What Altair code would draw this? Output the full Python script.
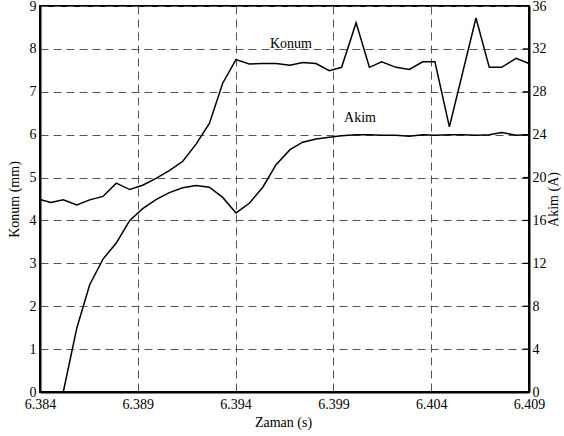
import altair as alt
import pandas as pd

# Konum (mm) samples
t_konum = [6.38400, 6.38455, 6.38519, 6.38588, 6.38654, 6.38722, 6.38790, 6.38859, 6.38925,
           6.38993, 6.39061, 6.39130, 6.39198, 6.39266, 6.39334, 6.39402, 6.39470, 6.39539,
           6.39607, 6.39678, 6.39743, 6.39811, 6.39879, 6.39942, 6.40016, 6.40084, 6.40147,
           6.40220, 6.40288, 6.40357, 6.40419, 6.40493, 6.40629, 6.40697, 6.40760, 6.40834,
           6.40900]
konum = [4.49, 4.42, 4.48, 4.36, 4.48, 4.56, 4.87, 4.72, 4.82, 4.98, 5.16, 5.38, 5.78, 6.26,
         7.20, 7.75, 7.65, 7.66, 7.66, 7.62, 7.68, 7.66, 7.49, 7.57, 8.61, 7.57, 7.70, 7.57,
         7.52, 7.70, 7.70, 6.18, 8.72, 7.57, 7.57, 7.78, 7.66]

# Akim (A) samples
t_akim = [6.38519, 6.38588, 6.38654, 6.38722, 6.38790, 6.38859, 6.38925, 6.38993, 6.39061,
          6.39130, 6.39198, 6.39266, 6.39334, 6.39402, 6.39470, 6.39539, 6.39607, 6.39678,
          6.39743, 6.39811, 6.39879, 6.39942, 6.40016, 6.40084, 6.40147, 6.40220, 6.40288,
          6.40357, 6.40419, 6.40493, 6.40561, 6.40629, 6.40697, 6.40760, 6.40834, 6.40900]
akim = [0, 5.95, 10.0, 12.4, 13.9, 16.0, 17.1, 17.95, 18.6, 19.05, 19.25, 19.1, 18.15, 16.7,
        17.6, 19.1, 21.2, 22.6, 23.3, 23.6, 23.75, 23.9, 24.0, 24.0, 23.95, 23.95, 23.85, 24.0,
        23.95, 24.0, 24.0, 23.95, 24.0, 24.2, 23.95, 24.0]

x_ticks = [6.384, 6.389, 6.394, 6.399, 6.404, 6.409]
left_ticks = [0, 1, 2, 3, 4, 5, 6, 7, 8, 9]
right_ticks = [0, 4, 8, 12, 16, 20, 24, 28, 32, 36]

# in-plot labels
konum_label = {"t": [6.39683], "konum": [8.11], "label": ["Konum"]}
akim_label = {"t": [6.40036], "akim": [25.6], "label": ["Akim"]}

df_k = pd.DataFrame({"t": t_konum, "konum": konum})
df_a = pd.DataFrame({"t": t_akim, "akim": akim})
df_kl = pd.DataFrame(konum_label)
df_al = pd.DataFrame(akim_label)
df_rt = pd.DataFrame({"akim": right_ticks})

W, H = 489, 386
FONT = "Liberation Serif"
FS = 14
common = dict(labelFont=FONT, titleFont=FONT, labelFontSize=FS, titleFontSize=FS,
              labelColor="black", titleColor="black", titleFontWeight="normal",
              domainColor="black", domainWidth=2)

x_enc = alt.X("t:Q",
              scale=alt.Scale(domain=[6.384, 6.409], nice=False, zero=False),
              axis=alt.Axis(values=x_ticks, format=".3f", title="Zaman (s)",
                            grid=True, gridDash=[8, 5], gridColor="#555", gridWidth=1,
                            ticks=False, labelPadding=5, labelFlush=False, labelOverlap=False,
                            titleX=243, titleY=30, titleBaseline="middle", **common))

k_scale = alt.Scale(domain=[0, 9], nice=False)
a_scale = alt.Scale(domain=[0, 36], nice=False)

k_line = alt.Chart(df_k).mark_line(color="black", strokeWidth=1.5).encode(
    x=x_enc,
    y=alt.Y("konum:Q", scale=k_scale,
            axis=alt.Axis(values=left_ticks, format="d", title="Konum (mm)", orient="left",
                          grid=True, gridDash=[8, 5], gridColor="#555", gridWidth=1,
                          ticks=False, labelPadding=4, labelOverlap=False,
                          titleX=-26, titleY=193, titleAngle=270, titleBaseline="middle",
                          **common)),
)
k_text = alt.Chart(df_kl).mark_text(font=FONT, fontSize=FS, color="black").encode(
    x=alt.X("t:Q"), y=alt.Y("konum:Q", scale=k_scale), text="label:N")

a_line = alt.Chart(df_a).mark_line(color="black", strokeWidth=1.5).encode(
    x=alt.X("t:Q"),
    y=alt.Y("akim:Q", scale=a_scale,
            axis=alt.Axis(values=right_ticks, format="d", title="Akim (A)", orient="right",
                          grid=False, ticks=False,
                          labelPadding=3, labelOverlap=False,
                          titleX=24, titleY=193, titleAngle=270, titleBaseline="middle",
                          **common)),
)
a_ticks = alt.Chart(df_rt).mark_rule(color="black", strokeWidth=1.2).encode(
    y=alt.Y("akim:Q", scale=a_scale),
    x=alt.value(W - 6), x2=alt.value(W))
a_text = alt.Chart(df_al).mark_text(font=FONT, fontSize=FS, color="black").encode(
    x=alt.X("t:Q"), y=alt.Y("akim:Q", scale=a_scale), text="label:N")

chart = alt.layer(
    alt.layer(k_line, k_text),
    alt.layer(a_line, a_ticks, a_text),
).resolve_scale(y="independent").properties(
    width=W, height=H,
    autosize=alt.AutoSizeParams(type="none"),
    padding={"left": 40, "top": 6, "right": 35, "bottom": 44},
    background="white",
).configure_view(stroke="black", strokeWidth=2)

chart.save("out.html", embed_options={"renderer": "svg", "actions": False})
